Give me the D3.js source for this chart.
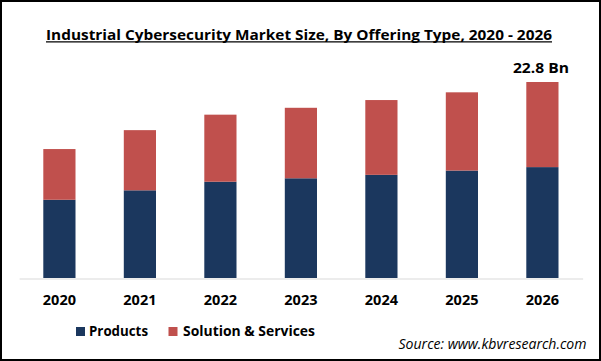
<!DOCTYPE html>
<html>
<head>
<meta charset="utf-8">
<script src="https://cdn.jsdelivr.net/npm/d3@7"></script>
<style>
  html, body { margin: 0; padding: 0; background: #fff; }
  svg { display: block; }
</style>
</head>
<body>
<svg id="chart" width="601" height="361"></svg>
<script>
const years = ["2020", "2021", "2022", "2023", "2024", "2025", "2026"];
const products = [9.1, 10.2, 11.2, 11.6, 12.0, 12.5, 12.9];
const services = [5.9, 7.0, 7.8, 8.2, 8.7, 9.1, 9.9];
const seriesNames = ["Products", "Solution & Services"];
const seriesColors = ["#1b375e", "#c0504d"];
const titleText = "Industrial Cybersecurity Market Size, By Offering Type, 2020 - 2026";
const topLabel = "22.8 Bn";
const sourceText = "Source: www.kbvresearch.com";

const svg = d3.select("#chart");
const FONT = "'Open Sans', 'Liberation Sans', sans-serif";

// border
svg.append("rect").attr("x", 1).attr("y", 1).attr("width", 599).attr("height", 359)
  .attr("fill", "#fff").attr("stroke", "#000").attr("stroke-width", 2);

// title
svg.append("text").attr("x", 46).attr("y", 39.5)
  .attr("font-family", FONT).attr("font-weight", "bold").attr("font-size", 14.5)
  .attr("textLength", 506).attr("lengthAdjust", "spacingAndGlyphs")
  .attr("fill", "#000").text(titleText);
svg.append("line").attr("x1", 46).attr("x2", 552).attr("y1", 41.8).attr("y2", 41.8)
  .attr("stroke", "#000").attr("stroke-width", 1.3);

const table = years.map((y, i) => ({ year: y, Products: products[i], "Solution & Services": services[i] }));
const stacked = d3.stack().keys(seriesNames)(table);

const x = d3.scaleBand().domain(years).range([19.15, 582.65]).paddingInner(0.6).paddingOuter(0.3);
const maxTotal = d3.max(table, d => d.Products + d["Solution & Services"]);
const y = d3.scaleLinear().domain([0, maxTotal]).range([278, 82]);

svg.append("g").selectAll("g").data(stacked).join("g")
  .attr("fill", (d, i) => seriesColors[i])
  .selectAll("rect").data(d => d).join("rect")
  .attr("x", d => x(d.data.year))
  .attr("width", x.bandwidth())
  .attr("y", d => y(d[1]))
  .attr("height", d => y(d[0]) - y(d[1]));

// axis
const axis = svg.append("g").attr("transform", "translate(0,278.5)")
  .call(d3.axisBottom(x).tickSize(0).tickPadding(0).tickSizeOuter(0));
axis.select(".domain").attr("stroke", "#d9d9d9").attr("stroke-width", 1);
axis.selectAll(".tick text")
  .attr("y", 26.5).attr("dy", null)
  .attr("font-family", FONT).attr("font-weight", "bold").attr("font-size", 14.5)
  .attr("fill", "#000");

// top label
const last = table[table.length - 1];
svg.append("text")
  .attr("x", x(last.year) + x.bandwidth() / 2 - 1.5)
  .attr("y", y(last.Products + last["Solution & Services"]) - 9)
  .attr("text-anchor", "middle")
  .attr("font-family", FONT).attr("font-weight", "bold").attr("font-size", 14.5)
  .attr("textLength", 56).attr("lengthAdjust", "spacingAndGlyphs")
  .attr("fill", "#000").text(topLabel);

// legend
const legendItems = [
  { name: seriesNames[0], color: seriesColors[0], sx: 76, tx: 89, tw: 59 },
  { name: seriesNames[1], color: seriesColors[1], sx: 168.5, tx: 183, tw: 132 }
];
const lg = svg.append("g");
legendItems.forEach(it => {
  lg.append("rect").attr("x", it.sx).attr("y", 327).attr("width", 9).attr("height", 9).attr("fill", it.color);
  lg.append("text").attr("x", it.tx).attr("y", 336)
    .attr("font-family", FONT).attr("font-weight", "bold").attr("font-size", 14.5)
    .attr("textLength", it.tw).attr("lengthAdjust", "spacingAndGlyphs")
    .attr("fill", "#000").text(it.name);
});

// source
svg.append("text").attr("x", 398.5).attr("y", 348.5)
  .attr("font-family", FONT).attr("font-style", "italic").attr("font-size", 14.5)
  .attr("textLength", 188).attr("lengthAdjust", "spacingAndGlyphs")
  .attr("fill", "#000").text(sourceText);
</script>
</body>
</html>
